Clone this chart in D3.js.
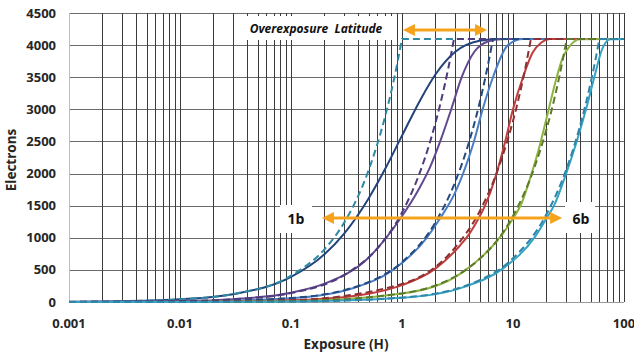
<!DOCTYPE html>
<html>
<head>
<meta charset="utf-8">
<script src="https://cdn.jsdelivr.net/npm/d3@7/dist/d3.min.js"></script>
<style>
body { margin: 0; background: #fff; }
svg text { font-family: "Open Sans", "Noto Sans", sans-serif; font-weight: bold; fill: #262626; }
</style>
</head>
<body>
<div id="chart"></div>
<script>
// axis ticks
var exposureTicks = [0.001, 0.01, 0.1, 1, 10, 100];
var exposureLabels = ["0.001", "0.01", "0.1", "1", "10", "100"];
var electronTicks = [0, 500, 1000, 1500, 2000, 2500, 3000, 3500, 4000, 4500];

// solid curves, [exposure, electrons]
var solid1 = [[0.001,4],[0.003,12],[0.01,41],[0.03,121],[0.1,390],[0.2,742],[0.3,1061],[0.5,1612],[0.7,2062],[1,2590],[1.5,3182],[2,3542],[3,3892],[5,4068],[7,4092],[10,4096],[100,4096]];
var solid2 = [[0.001,1.5],[0.01,15],[0.03,44],[0.1,145],[0.2,285],[0.5,690],[0.96,1292],[1.4,1740],[1.79,2100],[2.25,2540],[2.8,3020],[3.45,3500],[4.5,3900],[6,4060],[8,4096],[100,4096]];
var solid3 = [[0.001,0.6],[0.01,6],[0.1,60],[0.36,215],[0.83,500],[1.67,1000],[2.2,1300],[3,1700],[3.55,2000],[4.45,2500],[5.33,3000],[6.6,3500],[9,4000],[12.3,4096],[100,4096]];
var solid4 = [[0.001,0.27],[0.01,2.7],[0.1,27],[0.5,130],[1,262],[2,520],[3.33,880],[4,1050],[4.86,1292],[5.6,1500],[7.1,2000],[8.5,2500],[10,3000],[12.3,3500],[15,3880],[18,4040],[21.6,4096],[100,4096]];
var solid5 = [[0.001,0.13],[0.01,1.3],[0.1,13],[1,132],[3.55,470],[7.9,1040],[10,1300],[11.9,1530],[14.7,2000],[17.5,2450],[20.3,2900],[23.9,3400],[28,3800],[33,4000],[40,4090],[100,4096]];
var solid6 = [[0.001,0.065],[0.01,0.65],[0.1,6.5],[1,65],[3.7,240],[8.1,520],[16,1030],[20,1300],[23.4,1500],[30,1990],[37.5,2500],[45.5,3000],[54,3500],[63,3920],[75,4090],[100,4096]];

// dashed curves (hard clip)
var dashed1 = [[0.001,4],[0.003,12],[0.01,41],[0.03,123],[0.1,410],[0.2,820],[0.3,1230],[0.5,2050],[0.7,2870],[0.85,3480],[1,4096],[100,4096]];
var dashed2 = [[0.001,1.4],[0.01,14],[0.03,42],[0.1,139],[0.3,418],[0.6,836],[1,1393],[1.4,1950],[1.8,2508],[2.2,3065],[2.6,3622],[2.94,4096],[100,4096]];
var dashed3 = [[0.001,0.6],[0.01,6.2],[0.1,62],[0.5,310],[1,620],[2,1240],[3,1860],[4,2480],[5,3100],[5.8,3600],[6.6,4096],[100,4096]];
var dashed4 = [[0.001,0.28],[0.01,2.8],[0.1,28],[1,282],[3,846],[5,1410],[7,1975],[9,2540],[11,3100],[12.8,3610],[14.5,4096],[100,4096]];
var dashed5 = [[0.001,0.13],[0.01,1.3],[0.1,13],[1,134],[5,670],[10,1340],[14,1880],[18,2420],[22,2950],[26,3490],[30.5,4096],[100,4096]];
var dashed6 = [[0.001,0.07],[0.01,0.7],[0.1,6.8],[1,68],[5,340],[10,680],[20,1365],[30,2050],[40,2730],[50,3410],[55,3750],[60,4096],[100,4096]];

var solidSeries = [solid1, solid2, solid3, solid4, solid5, solid6];
var solidColors = ["#23437b", "#62498f", "#4a7ec4", "#bf3d3a", "#8cb43f", "#34a3c4"];
var dashedSeries = [dashed1, dashed2, dashed3, dashed4, dashed5, dashed6];
var dashedColors = ["#2e8aa3", "#4f3a7e", "#24497f", "#8e2f33", "#5d7a2c", "#2f86a8"];

var width = 634, height = 356;
var margin = {left: 69, right: 10, top: 13, bottom: 54};

var svg = d3.select("#chart").append("svg")
    .attr("width", width)
    .attr("height", height);

var x = d3.scaleLog()
    .domain([0.001, 100])
    .range([margin.left, width - margin.right]);

var y = d3.scaleLinear()
    .domain([0, 4500])
    .range([height - margin.bottom, margin.top]);

var px = function(v) { return Math.round(v) + 0.5; };

// minor + major vertical grid
var vgrid = [];
exposureTicks.forEach(function(t, i) {
    if (i > 0) vgrid.push(t);
    if (t < 100) for (var m = 2; m <= 9; m++) vgrid.push(t * m);
});

svg.append("g").selectAll("line")
    .data(electronTicks.slice(1))
    .enter().append("line")
    .attr("x1", x(0.001)).attr("x2", x(100))
    .attr("y1", d => px(y(d))).attr("y2", d => px(y(d)))
    .style("stroke", "#6a6a6a").style("stroke-width", 1);

svg.append("g").selectAll("line")
    .data(vgrid)
    .enter().append("line")
    .attr("x1", d => px(x(d))).attr("x2", d => px(x(d)))
    .attr("y1", y(4500)).attr("y2", y(0))
    .style("stroke", "#3c3c3c").style("stroke-width", 1);

// axis lines
svg.append("line")
    .attr("x1", px(x(0.001))).attr("x2", px(x(0.001)))
    .attr("y1", y(4500)).attr("y2", y(0))
    .style("stroke", "#bdbdbd");
svg.append("line")
    .attr("x1", x(0.001)).attr("x2", x(100))
    .attr("y1", px(y(0))).attr("y2", px(y(0)))
    .style("stroke", "#9a9a9a");

// tick labels
svg.append("g").selectAll("text")
    .data(electronTicks)
    .enter().append("text")
    .attr("x", x(0.001) - 13)
    .attr("y", d => y(d) + 4.5)
    .style("text-anchor", "end")
    .style("font-size", "13px")
    .text(d => d);

svg.append("g").selectAll("text")
    .data(exposureTicks)
    .enter().append("text")
    .attr("x", d => x(d))
    .attr("y", y(0) + 26)
    .style("text-anchor", "middle")
    .style("font-size", "13px")
    .text((d, i) => exposureLabels[i]);

svg.append("text")
    .attr("x", 346).attr("y", 349)
    .style("text-anchor", "middle")
    .style("font-size", "13.5px")
    .text("Exposure (H)");

svg.append("text")
    .attr("transform", "translate(16,160) rotate(-90)")
    .style("text-anchor", "middle")
    .style("font-size", "13.5px")
    .text("Electrons");

// curves
var line = d3.line()
    .x(d => x(d[0]))
    .y(d => y(d[1]))
    .curve(d3.curveMonotoneX);

svg.append("g").selectAll("path")
    .data(solidSeries)
    .enter().append("path")
    .attr("d", d => line(d))
    .style("fill", "none")
    .style("stroke", (d, i) => solidColors[i])
    .style("stroke-width", 2);

// dashed: smooth rise, sharp corner into the flat top
function dashedPath(d) {
    var top = d3.max(d, p => p[1]);
    var k = d.findIndex(p => p[1] >= top);
    var rise = d.slice(0, k + 1);
    var rest = d.slice(k + 1);
    var s = line(rise);
    rest.forEach(function(p) { s += "L" + x(p[0]) + "," + y(p[1]); });
    return s;
}

svg.append("g").selectAll("path")
    .data(dashedSeries)
    .enter().append("path")
    .attr("d", dashedPath)
    .style("fill", "none")
    .style("stroke", (d, i) => dashedColors[i])
    .style("stroke-width", 2)
    .style("stroke-dasharray", "7,4");

// annotations
var orange = "#f5a31c";
function arrow(x1, x2, yy) {
    var g = svg.append("g");
    g.append("line")
        .attr("x1", x1 + 8).attr("x2", x2 - 8)
        .attr("y1", yy).attr("y2", yy)
        .style("stroke", orange).style("stroke-width", 3);
    g.append("path")
        .attr("d", "M" + x1 + "," + yy + "L" + (x1 + 12) + "," + (yy - 6) + "L" + (x1 + 12) + "," + (yy + 6) + "Z")
        .style("fill", orange);
    g.append("path")
        .attr("d", "M" + x2 + "," + yy + "L" + (x2 - 12) + "," + (yy - 6) + "L" + (x2 - 12) + "," + (yy + 6) + "Z")
        .style("fill", orange);
}

function labelBox(x0, y0, w, h) {
    svg.append("rect")
        .attr("x", x0).attr("y", y0)
        .attr("width", w).attr("height", h)
        .style("fill", "#fff");
}

labelBox(234, 16, 161, 24);
svg.append("text")
    .attr("x", 316).attr("y", 33)
    .style("text-anchor", "middle")
    .style("font-size", "12px")
    .style("font-style", "italic")
    .style("fill", "#111")
    .text("Overexposure\u00a0 Latitude");
arrow(x(1.02), x(5.84), y(4235));

labelBox(280, 205, 32, 28);
svg.append("text")
    .attr("x", 296).attr("y", 224)
    .style("text-anchor", "middle")
    .style("font-size", "14px")
    .style("fill", "#111")
    .text("1b");

labelBox(565, 202, 30, 31);
svg.append("text")
    .attr("x", 581).attr("y", 223.5)
    .style("text-anchor", "middle")
    .style("font-size", "14px")
    .style("fill", "#111")
    .text("6b");

arrow(x(0.19), x(27.7), y(1308));
</script>
</body>
</html>
